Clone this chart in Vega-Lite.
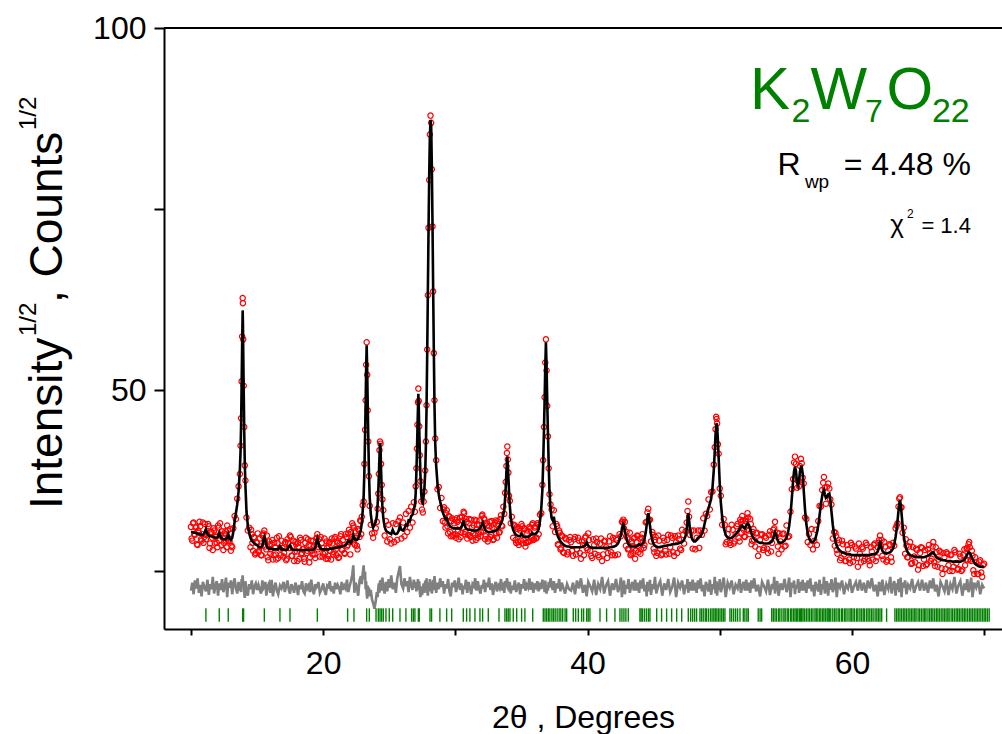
{
"$schema": "https://vega.github.io/schema/vega-lite/v6.json",
"width": 838, "height": 601,
"autosize": {"type": "none"},
"padding": {"left": 164, "top": 28, "right": 0, "bottom": 105},
"background": "white",
"config": {"view": {"stroke": null}, "font": "Liberation Sans"},
"datasets": {
"pat": [
{"t":10.0,"c":30.4,"o":31.1,"d":22.3},{"t":10.1,"c":30.4,"o":29.2,"d":23.4},{"t":10.2,"c":30.3,"o":31.7,"d":21.8},{"t":10.3,"c":30.3,"o":30.0,"d":23.7},{"t":10.4,"c":30.2,"o":31.1,"d":22.6},{"t":10.5,"c":30.2,"o":28.6,"d":24.0},{"t":10.6,"c":30.1,"o":30.3,"d":22.0},{"t":10.7,"c":30.1,"o":31.2,"d":23.1},{"t":10.8,"c":30.0,"o":29.2,"d":21.5},{"t":10.9,"c":30.0,"o":31.7,"d":23.5},
{"t":11.0,"c":30.2,"o":29.7,"d":22.9},{"t":11.13,"c":30.8,"o":29.4,"d":22.2},{"t":11.25,"c":30.1,"o":30.5,"d":23.8},{"t":11.35,"c":29.9,"o":31.2,"d":21.7},{"t":11.45,"c":29.8,"o":28.8,"d":23.2},{"t":11.55,"c":29.8,"o":30.4,"d":22.5},{"t":11.65,"c":29.7,"o":27.9,"d":24.2},{"t":11.75,"c":29.7,"o":30.6,"d":21.9},{"t":11.85,"c":29.6,"o":29.7,"d":23.0},{"t":11.95,"c":29.6,"o":28.9,"d":23.6},
{"t":12.05,"c":29.8,"o":31.3,"d":21.6},{"t":12.14,"c":30.3,"o":29.2,"d":23.3},{"t":12.25,"c":29.7,"o":30.0,"d":22.4},{"t":12.35,"c":29.5,"o":30.5,"d":23.9},{"t":12.45,"c":29.4,"o":27.9,"d":22.1},{"t":12.55,"c":29.4,"o":30.2,"d":22.8},{"t":12.65,"c":29.4,"o":29.2,"d":24.1},{"t":12.74,"c":29.7,"o":31.3,"d":21.4},{"t":12.82,"c":30.1,"o":29.2,"d":23.4},{"t":12.92,"c":29.5,"o":29.1,"d":22.7},
{"t":13.02,"c":29.3,"o":27.8,"d":23.7},{"t":13.12,"c":29.6,"o":28.3,"d":21.8},{"t":13.2,"c":30.4,"o":30.9,"d":23.1},{"t":13.3,"c":31.8,"o":32.6,"d":24.0},{"t":13.4,"c":33.0,"o":32.2,"d":22.6},{"t":13.5,"c":34.2,"o":35.0,"d":21.9},{"t":13.6,"c":36.0,"o":36.7,"d":23.5},{"t":13.7,"c":39.0,"o":38.4,"d":22.3},{"t":13.75,"c":41.5,"o":42.3,"d":23.0},{"t":13.79,"c":45.0,"o":46.1,"d":22.1},
{"t":13.83,"c":50.3,"o":51.2,"d":23.9},{"t":13.87,"c":56.0,"o":57.4,"d":23.3},{"t":13.91,"c":61.0,"o":62.7,"d":24.4},{"t":13.93,"c":59.3,"o":62.0,"d":23.8},{"t":13.95,"c":55.9,"o":57.0,"d":22.9},{"t":13.99,"c":49.9,"o":50.6,"d":23.4},{"t":14.03,"c":44.2,"o":44.9,"d":22.0},{"t":14.07,"c":40.0,"o":39.6,"d":21.3},{"t":14.12,"c":36.8,"o":37.5,"d":23.6},{"t":14.2,"c":33.2,"o":32.4,"d":22.2},
{"t":14.3,"c":31.3,"o":30.6,"d":21.6},{"t":14.4,"c":30.3,"o":31.0,"d":23.2},{"t":14.5,"c":29.6,"o":28.3,"d":22.5},{"t":14.6,"c":29.2,"o":30.1,"d":23.7},{"t":14.7,"c":29.0,"o":27.8,"d":21.8},{"t":14.8,"c":28.8,"o":29.6,"d":22.9},{"t":14.9,"c":28.7,"o":27.5,"d":23.3},{"t":15.0,"c":28.6,"o":28.9,"d":22.4},
{"t":15.1,"c":28.4,"o":27.6,"d":23.1},{"t":15.2,"c":28.3,"o":29.5,"d":22.4},{"t":15.3,"c":28.3,"o":27.2,"d":21.9},{"t":15.4,"c":28.5,"o":29.9,"d":23.7},{"t":15.48,"c":29.3,"o":30.2,"d":22.6},{"t":15.55,"c":29.7,"o":30.6,"d":22.8},{"t":15.63,"c":29.2,"o":28.4,"d":23.5},{"t":15.7,"c":28.6,"o":28.0,"d":21.6},{"t":15.8,"c":28.2,"o":26.9,"d":22.9},{"t":15.9,"c":28.1,"o":29.1,"d":23.3},
{"t":16.0,"c":28.1,"o":27.4,"d":22.0},{"t":16.1,"c":28.1,"o":28.7,"d":23.8},{"t":16.2,"c":28.0,"o":26.6,"d":21.5},{"t":16.3,"c":28.0,"o":28.9,"d":22.7},{"t":16.4,"c":28.0,"o":27.3,"d":23.4},{"t":16.5,"c":28.0,"o":29.6,"d":22.3},{"t":16.6,"c":28.0,"o":26.8,"d":21.8},{"t":16.73,"c":28.4,"o":28.1,"d":23.0},{"t":16.85,"c":28.0,"o":29.2,"d":22.6},{"t":17.0,"c":28.0,"o":27.0,"d":23.5},
{"t":17.1,"c":27.9,"o":28.8,"d":22.1},{"t":17.2,"c":27.9,"o":26.5,"d":22.9},{"t":17.3,"c":28.0,"o":29.4,"d":23.7},{"t":17.4,"c":28.4,"o":28.2,"d":22.4},{"t":17.49,"c":28.6,"o":29.9,"d":21.9},{"t":17.6,"c":28.1,"o":27.1,"d":23.2},{"t":17.7,"c":27.9,"o":28.5,"d":22.7},{"t":17.8,"c":27.9,"o":26.4,"d":22.0},{"t":17.9,"c":27.9,"o":29.0,"d":23.4},{"t":18.0,"c":27.9,"o":27.7,"d":22.8},
{"t":18.1,"c":27.9,"o":28.9,"d":21.7},{"t":18.2,"c":27.9,"o":26.7,"d":23.1},{"t":18.3,"c":27.9,"o":29.3,"d":22.5},{"t":18.4,"c":27.9,"o":27.5,"d":23.6},{"t":18.5,"c":27.9,"o":28.1,"d":22.2},{"t":18.6,"c":27.9,"o":26.3,"d":21.9},{"t":18.7,"c":27.9,"o":29.6,"d":23.3},{"t":18.8,"c":27.9,"o":27.8,"d":22.6},{"t":18.9,"c":27.9,"o":28.6,"d":23.0},{"t":19.0,"c":27.9,"o":26.9,"d":22.1},
{"t":19.1,"c":27.9,"o":29.2,"d":23.8},{"t":19.2,"c":27.9,"o":27.3,"d":22.4},{"t":19.3,"c":28.0,"o":28.4,"d":21.8},{"t":19.4,"c":28.3,"o":26.8,"d":23.2},{"t":19.48,"c":29.0,"o":29.5,"d":22.7},{"t":19.56,"c":29.5,"o":30.1,"d":22.9},{"t":19.64,"c":28.9,"o":28.3,"d":23.5},{"t":19.75,"c":28.2,"o":27.0,"d":22.0},{"t":19.9,"c":28.0,"o":28.9,"d":22.6},{"t":20.0,"c":28.0,"o":27.4,"d":23.3},
{"t":20.1,"c":28.0,"o":29.5,"d":22.3},{"t":20.2,"c":28.0,"o":26.7,"d":21.7},{"t":20.3,"c":28.0,"o":28.2,"d":23.0},{"t":20.4,"c":28.0,"o":27.1,"d":22.8},{"t":20.5,"c":28.1,"o":29.0,"d":23.6},{"t":20.6,"c":28.1,"o":26.6,"d":22.2},{"t":20.7,"c":28.1,"o":28.8,"d":22.9},{"t":20.8,"c":28.2,"o":27.6,"d":21.9},{"t":20.9,"c":28.2,"o":29.7,"d":23.4},{"t":21.0,"c":28.2,"o":27.2,"d":22.5},
{"t":21.1,"c":28.3,"o":28.9,"d":23.1},{"t":21.2,"c":28.3,"o":26.9,"d":22.7},{"t":21.3,"c":28.4,"o":29.8,"d":21.8},{"t":21.4,"c":28.4,"o":28.0,"d":23.5},{"t":21.5,"c":28.5,"o":29.3,"d":22.4},{"t":21.6,"c":28.5,"o":27.5,"d":23.0},{"t":21.7,"c":28.6,"o":30.1,"d":22.6},{"t":21.8,"c":28.8,"o":28.4,"d":23.8},{"t":21.9,"c":29.2,"o":30.2,"d":22.1},{"t":22.0,"c":29.1,"o":29.0,"d":22.9},
{"t":22.1,"c":28.9,"o":30.4,"d":23.6},{"t":22.2,"c":29.3,"o":31.6,"d":24.5},{"t":22.28,"c":30.0,"o":31.3,"d":25.8},{"t":22.36,"c":29.6,"o":28.8,"d":22.0},{"t":22.45,"c":29.3,"o":30.5,"d":23.4},{"t":22.55,"c":29.3,"o":28.5,"d":22.8},{"t":22.65,"c":29.5,"o":30.8,"d":21.6},{"t":22.75,"c":30.0,"o":29.7,"d":23.7},{"t":22.85,"c":30.7,"o":31.9,"d":24.3},{"t":22.92,"c":31.6,"o":32.5,"d":23.2},
{"t":22.99,"c":33.3,"o":34.1,"d":24.6},{"t":23.06,"c":35.2,"o":34.6,"d":25.8},{"t":23.12,"c":38.9,"o":39.8,"d":23.9},{"t":23.17,"c":43.7,"o":44.5,"d":24.9},{"t":23.21,"c":47.9,"o":48.6,"d":22.5},{"t":23.25,"c":52.7,"o":53.5,"d":23.6},{"t":23.29,"c":56.2,"o":56.6,"d":22.0},{"t":23.33,"c":52.7,"o":52.1,"d":21.2},{"t":23.37,"c":47.9,"o":47.2,"d":23.0},{"t":23.41,"c":43.7,"o":42.9,"d":21.8},
{"t":23.46,"c":38.9,"o":38.1,"d":22.7},{"t":23.52,"c":35.2,"o":34.0,"d":21.5},{"t":23.6,"c":32.9,"o":31.4,"d":22.4},{"t":23.7,"c":31.5,"o":30.2,"d":21.0},{"t":23.78,"c":31.0,"o":29.6,"d":20.6},{"t":23.88,"c":31.4,"o":30.3,"d":19.8},{"t":23.98,"c":31.8,"o":30.9,"d":20.9},{"t":24.06,"c":32.6,"o":31.8,"d":22.1},{"t":24.12,"c":34.2,"o":33.6,"d":21.4},{"t":24.17,"c":36.1,"o":35.7,"d":22.6},
{"t":24.21,"c":38.1,"o":38.4,"d":23.3},{"t":24.26,"c":40.8,"o":41.7,"d":22.0},{"t":24.3,"c":42.7,"o":42.9,"d":23.7},{"t":24.34,"c":42.0,"o":42.6,"d":22.5},{"t":24.38,"c":39.0,"o":39.8,"d":23.8},{"t":24.43,"c":36.1,"o":36.9,"d":22.3},{"t":24.48,"c":34.0,"o":34.9,"d":24.1},{"t":24.55,"c":32.3,"o":33.4,"d":22.8},{"t":24.65,"c":31.1,"o":29.9,"d":21.9},{"t":24.75,"c":30.6,"o":31.9,"d":23.5},
{"t":24.85,"c":30.4,"o":29.1,"d":22.2},{"t":24.95,"c":30.3,"o":31.4,"d":23.9},{"t":25.05,"c":30.2,"o":29.4,"d":22.7},{"t":25.15,"c":30.1,"o":28.8,"d":24.4},{"t":25.26,"c":30.7,"o":31.6,"d":22.5},{"t":25.38,"c":30.2,"o":29.0,"d":23.4},{"t":25.5,"c":30.1,"o":31.5,"d":22.0},{"t":25.6,"c":30.2,"o":29.3,"d":23.9},{"t":25.7,"c":30.5,"o":31.9,"d":24.8},{"t":25.81,"c":31.3,"o":32.4,"d":25.7},
{"t":25.92,"c":30.7,"o":29.5,"d":23.2},{"t":26.05,"c":30.6,"o":31.7,"d":22.6},{"t":26.15,"c":30.9,"o":29.8,"d":24.0},{"t":26.26,"c":31.4,"o":32.9,"d":22.9},{"t":26.36,"c":31.3,"o":30.4,"d":23.6},{"t":26.46,"c":32.0,"o":33.3,"d":22.1},{"t":26.56,"c":31.9,"o":31.0,"d":24.2},{"t":26.66,"c":32.6,"o":33.9,"d":23.0},{"t":26.76,"c":32.8,"o":31.7,"d":22.4},{"t":26.86,"c":33.6,"o":34.5,"d":23.8},
{"t":26.94,"c":34.0,"o":33.2,"d":22.7},{"t":27.0,"c":35.8,"o":36.7,"d":23.4},{"t":27.05,"c":38.5,"o":39.2,"d":22.2},{"t":27.09,"c":41.2,"o":41.9,"d":23.5},{"t":27.13,"c":44.4,"o":45.2,"d":22.6},{"t":27.17,"c":47.4,"o":48.3,"d":23.9},{"t":27.2,"c":49.5,"o":50.2,"d":23.2},{"t":27.23,"c":47.6,"o":48.5,"d":22.4},{"t":27.27,"c":44.5,"o":45.0,"d":23.6},{"t":27.31,"c":41.4,"o":41.0,"d":22.1},
{"t":27.36,"c":38.2,"o":37.4,"d":21.4},{"t":27.42,"c":35.6,"o":34.6,"d":22.9},{"t":27.48,"c":34.6,"o":33.5,"d":21.7},{"t":27.54,"c":34.4,"o":33.1,"d":22.5},{"t":27.6,"c":35.4,"o":34.6,"d":23.3},{"t":27.66,"c":36.5,"o":36.0,"d":22.0},{"t":27.72,"c":38.7,"o":38.9,"d":23.7},{"t":27.77,"c":42.2,"o":42.9,"d":22.8},{"t":27.82,"c":47.5,"o":47.9,"d":24.0},{"t":27.87,"c":55.0,"o":55.6,"d":22.3},
{"t":27.92,"c":63.5,"o":63.1,"d":21.6},{"t":27.97,"c":72.0,"o":72.4,"d":23.4},{"t":28.02,"c":79.5,"o":79.0,"d":22.2},{"t":28.07,"c":84.8,"o":85.3,"d":23.9},{"t":28.12,"c":87.3,"o":87.9,"d":22.7},{"t":28.17,"c":86.5,"o":86.9,"d":23.5},{"t":28.22,"c":81.0,"o":80.5,"d":21.9},{"t":28.27,"c":73.0,"o":72.6,"d":22.6},{"t":28.32,"c":64.0,"o":63.6,"d":23.8},{"t":28.37,"c":55.5,"o":55.1,"d":22.4},
{"t":28.42,"c":48.0,"o":48.6,"d":24.3},{"t":28.48,"c":42.5,"o":43.3,"d":23.1},{"t":28.55,"c":39.5,"o":40.3,"d":22.0},{"t":28.65,"c":37.0,"o":36.3,"d":23.4},{"t":28.75,"c":35.5,"o":36.6,"d":22.5},{"t":28.85,"c":34.6,"o":33.7,"d":24.0},{"t":28.95,"c":33.8,"o":35.1,"d":22.8},{"t":29.05,"c":33.1,"o":31.9,"d":23.6},{"t":29.15,"c":32.6,"o":33.8,"d":21.9},{"t":29.25,"c":32.2,"o":31.0,"d":23.2},
{"t":29.35,"c":32.3,"o":33.4,"d":22.6},{"t":29.45,"c":31.6,"o":30.2,"d":23.9},{"t":29.55,"c":31.3,"o":32.5,"d":22.2},{"t":29.65,"c":31.1,"o":29.8,"d":21.5},{"t":29.75,"c":31.0,"o":32.3,"d":23.4},{"t":29.85,"c":30.9,"o":30.0,"d":22.8},{"t":29.95,"c":30.9,"o":32.1,"d":23.7},{"t":30.05,"c":30.9,"o":29.6,"d":22.1},{"t":30.15,"c":30.9,"o":31.8,"d":22.9},{"t":30.25,"c":30.9,"o":29.4,"d":24.1},
{"t":30.35,"c":30.9,"o":32.4,"d":22.4},{"t":30.45,"c":31.0,"o":30.3,"d":23.3},{"t":30.55,"c":31.5,"o":32.0,"d":21.8},{"t":30.62,"c":32.0,"o":33.2,"d":23.0},{"t":30.7,"c":31.3,"o":30.1,"d":22.5},{"t":30.8,"c":30.9,"o":32.2,"d":23.8},{"t":30.9,"c":30.8,"o":29.5,"d":22.0},{"t":31.0,"c":30.7,"o":31.6,"d":23.5},{"t":31.1,"c":30.7,"o":29.9,"d":22.7},{"t":31.2,"c":30.7,"o":32.1,"d":21.8},
{"t":31.3,"c":30.6,"o":29.2,"d":23.2},{"t":31.4,"c":30.6,"o":31.3,"d":22.9},{"t":31.5,"c":30.6,"o":30.0,"d":24.0},{"t":31.6,"c":30.6,"o":32.0,"d":22.3},{"t":31.7,"c":30.7,"o":29.6,"d":23.6},{"t":31.8,"c":30.8,"o":31.4,"d":22.5},{"t":31.9,"c":31.0,"o":29.8,"d":21.9},{"t":32.0,"c":31.4,"o":32.6,"d":23.1},{"t":32.08,"c":31.7,"o":31.0,"d":22.6},{"t":32.16,"c":31.2,"o":32.3,"d":23.8},
{"t":32.25,"c":30.7,"o":29.4,"d":22.1},{"t":32.35,"c":30.5,"o":31.6,"d":23.4},{"t":32.45,"c":30.4,"o":29.1,"d":22.8},{"t":32.55,"c":30.4,"o":31.2,"d":24.1},{"t":32.65,"c":30.4,"o":29.7,"d":22.4},{"t":32.75,"c":30.4,"o":31.9,"d":23.3},{"t":32.85,"c":30.5,"o":29.3,"d":21.7},{"t":32.95,"c":30.5,"o":30.8,"d":22.9},{"t":33.05,"c":30.6,"o":32.0,"d":23.5},{"t":33.15,"c":30.7,"o":29.6,"d":22.2},
{"t":33.25,"c":30.9,"o":31.5,"d":23.0},{"t":33.35,"c":31.2,"o":30.4,"d":22.6},{"t":33.45,"c":31.6,"o":32.7,"d":23.9},{"t":33.55,"c":32.0,"o":31.2,"d":22.3},{"t":33.63,"c":32.8,"o":33.9,"d":23.4},{"t":33.7,"c":33.5,"o":32.9,"d":22.0},{"t":33.76,"c":35.0,"o":35.8,"d":23.6},{"t":33.81,"c":36.6,"o":37.3,"d":22.8},{"t":33.86,"c":38.6,"o":39.5,"d":23.2},{"t":33.9,"c":40.0,"o":41.3,"d":24.0},
{"t":33.93,"c":40.8,"o":42.2,"d":23.7},{"t":33.97,"c":39.6,"o":40.4,"d":22.5},{"t":34.01,"c":38.0,"o":38.6,"d":23.1},{"t":34.06,"c":36.0,"o":35.4,"d":22.2},{"t":34.12,"c":34.0,"o":34.7,"d":23.5},{"t":34.19,"c":32.4,"o":31.6,"d":21.9},{"t":34.27,"c":31.4,"o":32.5,"d":23.0},{"t":34.37,"c":30.7,"o":29.6,"d":22.4},{"t":34.5,"c":30.2,"o":31.3,"d":23.7},{"t":34.6,"c":30.0,"o":28.9,"d":22.1},
{"t":34.7,"c":29.9,"o":30.8,"d":22.9},{"t":34.8,"c":29.8,"o":28.6,"d":23.4},{"t":34.9,"c":29.8,"o":30.6,"d":21.8},{"t":35.0,"c":30.2,"o":31.5,"d":23.2},{"t":35.1,"c":29.9,"o":28.8,"d":22.6},{"t":35.2,"c":29.7,"o":30.9,"d":23.9},{"t":35.3,"c":29.7,"o":28.4,"d":22.3},{"t":35.4,"c":29.7,"o":30.2,"d":23.1},{"t":35.5,"c":29.7,"o":29.0,"d":22.7},{"t":35.6,"c":29.8,"o":31.1,"d":24.0},
{"t":35.7,"c":30.0,"o":29.2,"d":22.4},{"t":35.8,"c":30.3,"o":31.4,"d":23.5},{"t":35.9,"c":30.1,"o":29.3,"d":22.0},{"t":36.0,"c":30.1,"o":31.0,"d":23.3},{"t":36.1,"c":30.2,"o":29.5,"d":22.8},{"t":36.2,"c":30.4,"o":31.6,"d":23.6},{"t":36.3,"c":30.8,"o":30.1,"d":22.2},{"t":36.4,"c":31.9,"o":32.8,"d":23.4},{"t":36.5,"c":33.7,"o":33.0,"d":22.5},{"t":36.58,"c":36.1,"o":36.9,"d":23.8},
{"t":36.64,"c":39.7,"o":40.3,"d":22.9},{"t":36.7,"c":44.3,"o":44.9,"d":23.2},{"t":36.75,"c":48.4,"o":49.0,"d":22.1},{"t":36.8,"c":53.1,"o":53.8,"d":23.7},{"t":36.85,"c":56.6,"o":57.0,"d":22.6},{"t":36.9,"c":53.1,"o":52.7,"d":21.9},{"t":36.95,"c":48.4,"o":47.8,"d":23.0},{"t":37.0,"c":44.3,"o":43.6,"d":22.3},{"t":37.06,"c":39.7,"o":39.2,"d":23.5},{"t":37.12,"c":36.1,"o":35.6,"d":22.7},
{"t":37.2,"c":33.6,"o":34.2,"d":24.0},{"t":37.28,"c":32.3,"o":33.5,"d":23.1},{"t":37.36,"c":32.0,"o":31.2,"d":22.4},{"t":37.45,"c":32.5,"o":33.4,"d":23.6},{"t":37.54,"c":31.4,"o":30.4,"d":22.0},{"t":37.64,"c":30.4,"o":31.5,"d":23.3},{"t":37.75,"c":29.8,"o":28.7,"d":22.6},{"t":37.85,"c":29.4,"o":30.6,"d":23.9},{"t":37.95,"c":29.1,"o":28.0,"d":22.2},{"t":38.05,"c":28.9,"o":29.9,"d":23.4},
{"t":38.15,"c":28.7,"o":27.6,"d":22.8},{"t":38.3,"c":28.5,"o":29.6,"d":21.9},{"t":38.45,"c":28.4,"o":27.3,"d":23.2},{"t":38.6,"c":28.4,"o":29.3,"d":22.5},{"t":38.75,"c":28.3,"o":29.0,"d":22.3},{"t":38.9,"c":28.3,"o":27.1,"d":23.4},{"t":39.05,"c":28.3,"o":29.7,"d":21.8},{"t":39.2,"c":28.3,"o":28.0,"d":23.7},{"t":39.35,"c":28.3,"o":29.2,"d":22.6},{"t":39.5,"c":28.3,"o":26.7,"d":24.0},
{"t":39.65,"c":28.4,"o":28.6,"d":22.0},{"t":39.8,"c":28.5,"o":29.6,"d":23.1},{"t":39.93,"c":29.0,"o":28.2,"d":21.5},{"t":40.05,"c":28.5,"o":30.2,"d":23.5},{"t":40.2,"c":28.3,"o":27.8,"d":22.9},{"t":40.35,"c":28.2,"o":26.8,"d":22.2},{"t":40.5,"c":28.2,"o":28.6,"d":23.8},{"t":40.65,"c":28.2,"o":29.5,"d":21.7},{"t":40.8,"c":28.2,"o":27.2,"d":23.2},{"t":40.95,"c":28.2,"o":28.8,"d":22.5},
{"t":41.1,"c":28.2,"o":26.4,"d":24.2},{"t":41.25,"c":28.2,"o":29.1,"d":21.9},{"t":41.4,"c":28.2,"o":28.3,"d":23.0},{"t":41.55,"c":28.2,"o":27.5,"d":23.6},{"t":41.7,"c":28.3,"o":29.8,"d":21.6},{"t":41.85,"c":28.3,"o":27.2,"d":23.3},{"t":42.0,"c":28.4,"o":28.7,"d":22.4},{"t":42.15,"c":28.5,"o":29.5,"d":23.9},{"t":42.3,"c":28.8,"o":27.3,"d":22.1},{"t":42.42,"c":29.3,"o":30.1,"d":22.8},
{"t":42.52,"c":30.0,"o":29.8,"d":24.1},{"t":42.6,"c":30.8,"o":31.8,"d":21.4},{"t":42.66,"c":31.3,"o":31.8,"d":23.4},{"t":42.7,"c":31.5,"o":32.1,"d":22.7},{"t":42.75,"c":31.3,"o":30.9,"d":23.7},{"t":42.82,"c":30.6,"o":31.8,"d":21.8},{"t":42.9,"c":29.8,"o":28.5,"d":23.1},{"t":43.0,"c":29.1,"o":29.6,"d":22.6},{"t":43.1,"c":28.7,"o":28.1,"d":23.9},{"t":43.2,"c":28.5,"o":30.3,"d":22.0},
{"t":43.3,"c":28.4,"o":27.4,"d":22.9},{"t":43.4,"c":28.4,"o":28.4,"d":23.5},{"t":43.5,"c":28.4,"o":29.5,"d":22.3},{"t":43.6,"c":28.4,"o":26.7,"d":23.8},{"t":43.7,"c":28.4,"o":29.0,"d":22.3},{"t":43.8,"c":28.5,"o":29.8,"d":23.4},{"t":43.9,"c":28.7,"o":28.4,"d":22.0},{"t":44.0,"c":28.6,"o":27.4,"d":23.7},{"t":44.1,"c":28.7,"o":29.6,"d":22.6},{"t":44.2,"c":28.9,"o":29.1,"d":24.0},
{"t":44.3,"c":29.4,"o":28.6,"d":22.2},{"t":44.4,"c":30.3,"o":31.7,"d":23.1},{"t":44.47,"c":31.3,"o":31.8,"d":21.5},{"t":44.53,"c":32.4,"o":33.1,"d":23.5},{"t":44.59,"c":33.0,"o":33.6,"d":22.9},{"t":44.65,"c":32.4,"o":32.0,"d":22.2},{"t":44.72,"c":31.3,"o":32.1,"d":23.8},{"t":44.8,"c":30.1,"o":29.1,"d":21.7},{"t":44.9,"c":29.2,"o":30.4,"d":23.2},{"t":45.0,"c":28.7,"o":28.1,"d":22.5},
{"t":45.1,"c":28.5,"o":29.3,"d":24.2},{"t":45.2,"c":28.4,"o":27.1,"d":21.9},{"t":45.35,"c":28.3,"o":29.9,"d":23.0},{"t":45.5,"c":28.3,"o":28.1,"d":23.6},{"t":45.65,"c":28.4,"o":27.4,"d":21.6},{"t":45.8,"c":28.5,"o":29.2,"d":23.3},{"t":45.95,"c":28.5,"o":27.3,"d":22.4},{"t":46.1,"c":28.6,"o":30.0,"d":23.9},{"t":46.25,"c":28.6,"o":28.3,"d":22.1},{"t":46.4,"c":28.7,"o":29.6,"d":22.8},
{"t":46.55,"c":28.7,"o":27.1,"d":24.1},{"t":46.7,"c":28.8,"o":29.0,"d":21.4},{"t":46.85,"c":28.8,"o":29.9,"d":23.4},{"t":47.0,"c":28.9,"o":28.1,"d":22.7},{"t":47.15,"c":29.0,"o":30.7,"d":23.7},{"t":47.3,"c":29.3,"o":28.8,"d":21.8},{"t":47.42,"c":29.9,"o":30.5,"d":23.1},{"t":47.5,"c":30.8,"o":31.7,"d":22.6},{"t":47.56,"c":32.0,"o":33.3,"d":23.9},{"t":47.62,"c":33.0,"o":34.6,"d":22.0},
{"t":47.68,"c":32.0,"o":32.5,"d":22.9},{"t":47.75,"c":30.7,"o":30.0,"d":23.5},{"t":47.85,"c":29.7,"o":30.6,"d":22.3},{"t":47.95,"c":29.3,"o":28.1,"d":23.8},{"t":48.05,"c":29.1,"o":30.6,"d":22.3},{"t":48.15,"c":29.1,"o":28.0,"d":23.4},{"t":48.25,"c":29.3,"o":29.6,"d":22.0},{"t":48.35,"c":29.6,"o":30.6,"d":23.7},{"t":48.45,"c":29.7,"o":28.2,"d":22.6},{"t":48.55,"c":29.8,"o":30.6,"d":24.0},
{"t":48.65,"c":30.2,"o":30.0,"d":22.2},{"t":48.75,"c":30.7,"o":32.3,"d":23.1},{"t":48.85,"c":31.5,"o":30.6,"d":21.5},{"t":48.95,"c":32.3,"o":32.9,"d":23.5},{"t":49.05,"c":33.0,"o":32.6,"d":22.9},{"t":49.15,"c":33.7,"o":34.9,"d":22.2},{"t":49.25,"c":34.3,"o":33.5,"d":23.8},{"t":49.35,"c":35.0,"o":35.9,"d":21.7},{"t":49.45,"c":36.5,"o":36.0,"d":23.2},{"t":49.55,"c":39.0,"o":39.7,"d":22.5},
{"t":49.62,"c":41.5,"o":42.1,"d":24.2},{"t":49.68,"c":43.8,"o":44.6,"d":21.9},{"t":49.73,"c":45.0,"o":46.3,"d":23.0},{"t":49.76,"c":45.4,"o":46.0,"d":23.6},{"t":49.8,"c":45.0,"o":45.4,"d":21.6},{"t":49.86,"c":43.0,"o":42.5,"d":23.3},{"t":49.92,"c":40.5,"o":41.2,"d":22.4},{"t":50.0,"c":37.0,"o":36.4,"d":23.9},{"t":50.08,"c":34.5,"o":35.4,"d":22.1},{"t":50.18,"c":32.5,"o":31.4,"d":22.8},
{"t":50.3,"c":31.0,"o":32.2,"d":24.1},{"t":50.45,"c":30.0,"o":28.7,"d":21.4},{"t":50.6,"c":29.6,"o":30.1,"d":23.4},{"t":50.75,"c":29.5,"o":28.9,"d":22.7},{"t":50.9,"c":29.6,"o":31.4,"d":23.7},{"t":51.05,"c":29.8,"o":28.8,"d":21.8},{"t":51.2,"c":30.1,"o":30.1,"d":23.1},{"t":51.35,"c":30.4,"o":31.5,"d":22.6},{"t":51.5,"c":30.8,"o":29.1,"d":23.9},{"t":51.6,"c":31.2,"o":31.8,"d":22.0},
{"t":51.7,"c":31.3,"o":32.6,"d":22.9},{"t":51.8,"c":31.0,"o":30.7,"d":23.5},{"t":51.9,"c":30.9,"o":29.7,"d":22.3},{"t":52.0,"c":31.3,"o":32.2,"d":23.8},{"t":52.1,"c":31.6,"o":33.0,"d":22.3},{"t":52.2,"c":31.4,"o":30.6,"d":23.4},{"t":52.3,"c":30.8,"o":32.2,"d":22.0},{"t":52.4,"c":30.2,"o":28.7,"d":23.7},{"t":52.5,"c":29.7,"o":30.4,"d":22.6},{"t":52.6,"c":29.4,"o":29.3,"d":24.0},
{"t":52.75,"c":29.2,"o":30.2,"d":22.2},{"t":52.9,"c":29.0,"o":27.1,"d":23.1},{"t":53.05,"c":28.9,"o":29.3,"d":21.5},{"t":53.2,"c":28.9,"o":30.1,"d":23.5},{"t":53.35,"c":28.8,"o":28.2,"d":22.9},{"t":53.5,"c":28.8,"o":29.6,"d":22.2},{"t":53.65,"c":28.8,"o":27.5,"d":23.8},{"t":53.8,"c":28.9,"o":30.5,"d":21.7},{"t":53.95,"c":29.1,"o":28.9,"d":23.2},{"t":54.05,"c":29.6,"o":30.7,"d":22.5},
{"t":54.12,"c":30.1,"o":30.9,"d":24.2},{"t":54.18,"c":30.4,"o":31.8,"d":21.9},{"t":54.25,"c":30.1,"o":29.8,"d":23.0},{"t":54.35,"c":29.4,"o":30.3,"d":23.6},{"t":54.45,"c":29.0,"o":27.4,"d":21.6},{"t":54.6,"c":28.9,"o":29.1,"d":23.3},{"t":54.75,"c":29.0,"o":30.1,"d":22.4},{"t":54.9,"c":29.2,"o":28.4,"d":23.9},{"t":55.05,"c":29.6,"o":31.3,"d":22.1},{"t":55.15,"c":30.2,"o":29.7,"d":22.8},
{"t":55.25,"c":31.2,"o":29.8,"d":24.1},{"t":55.35,"c":32.8,"o":33.2,"d":21.4},{"t":55.45,"c":35.0,"o":36.3,"d":23.4},{"t":55.55,"c":37.5,"o":37.7,"d":22.7},{"t":55.62,"c":38.8,"o":40.0,"d":23.7},{"t":55.69,"c":39.4,"o":40.8,"d":21.8},{"t":55.76,"c":38.9,"o":39.8,"d":23.1},{"t":55.85,"c":37.2,"o":36.5,"d":22.6},{"t":55.93,"c":36.8,"o":37.4,"d":23.9},{"t":56.0,"c":37.6,"o":36.7,"d":22.0},
{"t":56.07,"c":38.8,"o":39.5,"d":22.9},{"t":56.14,"c":39.4,"o":40.5,"d":23.5},{"t":56.2,"c":39.4,"o":39.9,"d":22.3},{"t":56.27,"c":38.5,"o":37.9,"d":23.8},{"t":56.35,"c":36.2,"o":37.1,"d":22.3},{"t":56.45,"c":33.5,"o":32.4,"d":23.4},{"t":56.55,"c":31.5,"o":32.2,"d":22.0},{"t":56.65,"c":30.3,"o":29.0,"d":23.7},{"t":56.75,"c":29.6,"o":30.1,"d":22.6},{"t":56.85,"c":29.2,"o":28.6,"d":24.0},
{"t":56.95,"c":29.0,"o":30.8,"d":22.2},{"t":57.05,"c":29.0,"o":28.0,"d":23.1},{"t":57.15,"c":29.2,"o":29.2,"d":21.5},{"t":57.25,"c":29.6,"o":30.7,"d":23.5},{"t":57.35,"c":30.3,"o":28.6,"d":22.9},{"t":57.45,"c":31.3,"o":31.9,"d":22.2},{"t":57.55,"c":32.7,"o":34.0,"d":23.8},{"t":57.65,"c":34.2,"o":33.9,"d":21.7},{"t":57.75,"c":35.4,"o":36.2,"d":23.2},{"t":57.82,"c":36.0,"o":37.2,"d":22.5},
{"t":57.88,"c":36.2,"o":38.0,"d":24.2},{"t":57.95,"c":35.6,"o":36.5,"d":21.9},{"t":58.03,"c":35.1,"o":34.3,"d":23.0},{"t":58.1,"c":35.2,"o":36.6,"d":23.6},{"t":58.2,"c":35.6,"o":37.1,"d":21.6},{"t":58.29,"c":35.7,"o":36.4,"d":23.3},{"t":58.36,"c":35.0,"o":34.9,"d":22.4},{"t":58.45,"c":33.2,"o":34.2,"d":23.9},{"t":58.55,"c":31.4,"o":29.5,"d":22.1},{"t":58.65,"c":30.0,"o":30.4,"d":22.8},
{"t":58.75,"c":29.1,"o":30.3,"d":24.1},{"t":58.85,"c":28.5,"o":27.9,"d":21.4},{"t":58.95,"c":28.1,"o":28.9,"d":23.4},{"t":59.1,"c":27.8,"o":26.5,"d":22.7},{"t":59.25,"c":27.6,"o":29.2,"d":23.7},{"t":59.4,"c":27.5,"o":27.3,"d":21.8},{"t":59.55,"c":27.4,"o":26.4,"d":23.1},{"t":59.7,"c":27.3,"o":28.0,"d":22.6},{"t":59.85,"c":27.3,"o":26.1,"d":23.9},{"t":60.0,"c":27.2,"o":28.6,"d":22.0},
{"t":60.15,"c":27.2,"o":26.9,"d":22.9},{"t":60.3,"c":27.2,"o":28.1,"d":23.5},{"t":60.45,"c":27.2,"o":25.6,"d":22.3},{"t":60.6,"c":27.2,"o":27.4,"d":23.8},{"t":60.75,"c":27.2,"o":28.3,"d":22.3},{"t":60.9,"c":27.2,"o":26.4,"d":23.4},{"t":61.05,"c":27.2,"o":28.9,"d":22.0},{"t":61.2,"c":27.2,"o":26.7,"d":23.7},{"t":61.35,"c":27.2,"o":25.8,"d":22.6},{"t":61.5,"c":27.3,"o":27.7,"d":24.0},
{"t":61.65,"c":27.3,"o":28.6,"d":22.2},{"t":61.8,"c":27.4,"o":26.4,"d":23.1},{"t":61.95,"c":27.7,"o":28.3,"d":21.5},{"t":62.05,"c":28.4,"o":29.3,"d":23.5},{"t":62.12,"c":29.2,"o":29.9,"d":22.9},{"t":62.2,"c":28.4,"o":28.5,"d":22.2},{"t":62.3,"c":27.8,"o":27.1,"d":23.8},{"t":62.45,"c":27.5,"o":29.0,"d":21.7},{"t":62.6,"c":27.4,"o":26.3,"d":23.2},{"t":62.75,"c":27.5,"o":27.8,"d":22.5},
{"t":62.9,"c":27.6,"o":28.6,"d":24.2},{"t":63.0,"c":27.8,"o":26.3,"d":21.9},{"t":63.1,"c":28.1,"o":28.9,"d":23.0},{"t":63.2,"c":28.7,"o":28.5,"d":23.6},{"t":63.3,"c":29.7,"o":30.9,"d":21.6},{"t":63.38,"c":30.8,"o":31.3,"d":23.3},{"t":63.45,"c":32.0,"o":31.6,"d":22.4},{"t":63.52,"c":33.3,"o":33.9,"d":23.9},{"t":63.58,"c":34.3,"o":35.0,"d":22.1},{"t":63.63,"c":34.8,"o":35.2,"d":22.8},
{"t":63.68,"c":34.3,"o":33.8,"d":24.1},{"t":63.75,"c":33.0,"o":33.8,"d":21.4},{"t":63.83,"c":31.3,"o":30.3,"d":23.4},{"t":63.92,"c":29.8,"o":31.0,"d":22.7},{"t":64.02,"c":28.7,"o":27.4,"d":23.7},{"t":64.12,"c":28.0,"o":28.5,"d":21.8},{"t":64.25,"c":27.5,"o":26.9,"d":23.1},{"t":64.4,"c":27.2,"o":29.0,"d":22.6},{"t":64.55,"c":27.1,"o":26.1,"d":23.9},{"t":64.7,"c":27.0,"o":27.0,"d":22.0},
{"t":64.85,"c":27.0,"o":28.1,"d":22.9},{"t":65.0,"c":26.9,"o":25.2,"d":23.5},{"t":65.15,"c":26.9,"o":27.5,"d":22.3},{"t":65.3,"c":26.9,"o":28.2,"d":23.8},{"t":65.45,"c":26.9,"o":26.6,"d":22.3},{"t":65.6,"c":27.0,"o":25.8,"d":23.4},{"t":65.75,"c":27.1,"o":28.0,"d":22.0},{"t":65.9,"c":27.3,"o":27.5,"d":23.7},{"t":66.03,"c":27.5,"o":26.7,"d":22.6},{"t":66.15,"c":27.6,"o":29.0,"d":24.0},
{"t":66.28,"c":27.2,"o":25.7,"d":22.2},{"t":66.4,"c":26.9,"o":27.6,"d":23.1},{"t":66.55,"c":26.7,"o":26.6,"d":21.5},{"t":66.7,"c":26.6,"o":27.6,"d":23.5},{"t":66.85,"c":26.5,"o":24.6,"d":22.9},{"t":67.0,"c":26.5,"o":26.9,"d":22.2},{"t":67.15,"c":26.4,"o":27.6,"d":23.8},{"t":67.3,"c":26.4,"o":25.8,"d":21.7},{"t":67.45,"c":26.4,"o":27.2,"d":23.2},{"t":67.6,"c":26.3,"o":25.0,"d":22.5},
{"t":67.75,"c":26.3,"o":27.9,"d":24.2},{"t":67.9,"c":26.3,"o":26.1,"d":21.9},{"t":68.05,"c":26.3,"o":25.3,"d":23.0},{"t":68.2,"c":26.3,"o":27.0,"d":23.6},{"t":68.35,"c":26.4,"o":25.2,"d":21.6},{"t":68.5,"c":26.6,"o":28.0,"d":23.3},{"t":68.62,"c":26.9,"o":26.6,"d":22.4},{"t":68.72,"c":27.3,"o":28.2,"d":23.9},{"t":68.82,"c":27.6,"o":28.7,"d":22.1},{"t":68.92,"c":27.5,"o":28.3,"d":22.8},
{"t":69.02,"c":27.1,"o":26.4,"d":24.1},{"t":69.12,"c":26.6,"o":27.1,"d":21.4},{"t":69.25,"c":26.2,"o":24.6,"d":23.4},{"t":69.4,"c":25.9,"o":26.2,"d":22.7},{"t":69.55,"c":25.7,"o":24.6,"d":23.7},{"t":69.7,"c":25.6,"o":26.5,"d":21.8},{"t":69.85,"c":25.6,"o":24.2,"d":23.1},{"t":70.0,"c":25.6,"o":26.0,"d":22.6}
],
"obs2": [
{"t":10.05,"o":29.5},{"t":10.15,"o":31.6},{"t":10.25,"o":30.1},{"t":10.35,"o":31.0},{"t":10.45,"o":28.7},{"t":10.55,"o":30.6},{"t":10.65,"o":31.8},{"t":10.75,"o":29.4},{"t":10.85,"o":30.1},{"t":10.95,"o":28.9},{"t":11.06,"o":31.5},{"t":11.19,"o":30.0},{"t":11.3,"o":31.5},{"t":11.4,"o":28.2},{"t":11.5,"o":30.4},{"t":11.6,"o":29.6},{"t":11.7,"o":30.9},{"t":11.8,"o":28.8},{"t":11.9,"o":29.9},{"t":12.0,"o":28.3},{"t":12.1,"o":31.0},{"t":12.2,"o":31.6},{"t":12.3,"o":28.6},{"t":12.4,"o":29.6},{"t":12.5,"o":28.9},{"t":12.6,"o":30.5},{"t":12.7,"o":28.3},{"t":12.78,"o":30.6},{"t":12.87,"o":29.5},{"t":12.97,"o":30.8},{"t":13.07,"o":28.5},
{"t":14.55,"o":30.7},{"t":14.65,"o":28.9},{"t":14.75,"o":29.7},{"t":14.85,"o":27.3},{"t":14.95,"o":29.0},{"t":15.05,"o":30.2},{"t":15.15,"o":27.8},{"t":15.25,"o":28.4},{"t":15.35,"o":27.2},{"t":15.45,"o":30.0},{"t":15.59,"o":29.1},{"t":15.75,"o":29.9},{"t":15.85,"o":26.5},{"t":15.95,"o":28.7},{"t":16.05,"o":28.0},{"t":16.15,"o":29.3},{"t":16.25,"o":27.2},{"t":16.35,"o":28.3},{"t":16.45,"o":26.6},{"t":16.55,"o":28.9},{"t":16.66,"o":29.8},{"t":16.79,"o":27.2},{"t":16.92,"o":28.2},{"t":17.05,"o":27.5},{"t":17.15,"o":29.0},{"t":17.25,"o":26.7},{"t":17.35,"o":28.9},{"t":17.45,"o":28.2},{"t":17.55,"o":29.7},{"t":17.65,"o":27.1},{"t":17.75,"o":29.2},{"t":17.85,"o":27.7},{"t":17.95,"o":28.7},{"t":18.05,"o":26.4},{"t":18.15,"o":28.3},{"t":18.25,"o":29.6},{"t":18.35,"o":27.3},{"t":18.45,"o":28.0},{"t":18.55,"o":26.7},{"t":18.65,"o":28.9},{"t":18.75,"o":27.5},{"t":18.85,"o":29.4},{"t":18.95,"o":26.2},{"t":19.05,"o":28.5},{"t":19.15,"o":27.8},{"t":19.25,"o":29.2},{"t":19.35,"o":27.3},{"t":19.52,"o":29.6},{"t":19.6,"o":28.0},{"t":19.7,"o":29.4},{"t":19.82,"o":29.7},{"t":19.95,"o":27.0},
{"t":20.05,"o":28.2},{"t":20.15,"o":27.5},{"t":20.25,"o":29.1},{"t":20.35,"o":26.7},{"t":20.45,"o":28.8},{"t":20.55,"o":27.8},{"t":20.65,"o":29.5},{"t":20.75,"o":27.3},{"t":20.85,"o":29.5},{"t":20.95,"o":28.0},{"t":21.05,"o":29.1},{"t":21.15,"o":26.8},{"t":21.25,"o":28.8},{"t":21.35,"o":30.1},{"t":21.45,"o":27.9},{"t":21.55,"o":28.6},{"t":21.65,"o":27.4},{"t":21.75,"o":29.7},{"t":21.85,"o":28.6},{"t":21.95,"o":30.7},{"t":22.05,"o":27.3},{"t":22.15,"o":29.7},{"t":22.24,"o":29.5},{"t":22.32,"o":31.0},{"t":22.4,"o":28.6},{"t":22.5,"o":29.6},{"t":22.6,"o":28.0},{"t":22.7,"o":30.6},{"t":22.8,"o":32.0},{"t":22.88,"o":30.1},
{"t":29.1,"o":33.5},{"t":29.2,"o":31.7},{"t":29.3,"o":33.0},{"t":29.4,"o":31.2},{"t":29.5,"o":32.6},{"t":29.6,"o":30.4},{"t":29.7,"o":31.9},{"t":29.8,"o":29.8},{"t":29.9,"o":31.6},{"t":30.0,"o":30.1},{"t":30.1,"o":32.3},{"t":30.2,"o":30.5},{"t":30.3,"o":31.4},{"t":30.4,"o":29.7},{"t":30.5,"o":32.5},{"t":30.58,"o":31.0},{"t":30.66,"o":33.0},{"t":30.75,"o":30.4},{"t":30.85,"o":31.8},{"t":30.95,"o":30.0},{"t":31.05,"o":32.2},{"t":31.15,"o":29.7},{"t":31.25,"o":31.0},{"t":31.35,"o":30.2},{"t":31.45,"o":32.1},{"t":31.55,"o":29.3},{"t":31.65,"o":31.4},{"t":31.75,"o":30.1},{"t":31.85,"o":32.0},{"t":31.95,"o":30.4},{"t":32.04,"o":32.8},{"t":32.12,"o":30.6},{"t":32.2,"o":32.1},{"t":32.3,"o":29.8},{"t":32.4,"o":31.3},{"t":32.5,"o":29.5},{"t":32.6,"o":31.8},{"t":32.7,"o":30.0},{"t":32.8,"o":31.0},{"t":32.9,"o":29.4},{"t":33.0,"o":31.7},{"t":33.1,"o":30.2},{"t":33.2,"o":31.9},{"t":33.3,"o":30.3},{"t":33.4,"o":32.2},{"t":33.5,"o":31.3},
{"t":34.43,"o":31.4},{"t":34.55,"o":29.3},{"t":34.65,"o":31.1},{"t":34.75,"o":29.0},{"t":34.85,"o":30.9},{"t":34.95,"o":29.2},{"t":35.05,"o":31.2},{"t":35.15,"o":29.3},{"t":35.25,"o":30.8},{"t":35.35,"o":28.9},{"t":35.45,"o":30.6},{"t":35.55,"o":29.1},{"t":35.65,"o":30.9},{"t":35.75,"o":29.6},{"t":35.85,"o":31.6},{"t":35.95,"o":29.4},{"t":36.05,"o":31.2},{"t":36.15,"o":29.6},{"t":36.25,"o":31.4},
{"t":37.7,"o":31.2},{"t":37.8,"o":28.6},{"t":37.9,"o":30.3},{"t":38.0,"o":28.2},{"t":38.1,"o":29.8},{"t":38.22,"o":27.5},{"t":38.37,"o":29.4},{"t":38.52,"o":27.6},{"t":38.68,"o":29.7},{"t":38.82,"o":27.8},{"t":38.98,"o":29.4},{"t":39.12,"o":27.3},{"t":39.28,"o":29.6},{"t":39.42,"o":27.5},{"t":39.58,"o":29.1},{"t":39.72,"o":27.2},{"t":39.87,"o":29.8},{"t":40.0,"o":27.9},{"t":40.12,"o":29.3},{"t":40.28,"o":27.1},{"t":40.42,"o":29.4},{"t":40.58,"o":27.4},{"t":40.72,"o":29.0},{"t":40.88,"o":26.9},{"t":41.02,"o":29.5},{"t":41.18,"o":27.3},{"t":41.32,"o":29.2},{"t":41.48,"o":26.8},{"t":41.62,"o":29.1},{"t":41.78,"o":27.6},{"t":41.92,"o":29.6},{"t":42.08,"o":27.2},{"t":42.22,"o":29.3},
{"t":42.95,"o":30.4},{"t":43.05,"o":28.0},{"t":43.15,"o":29.4},{"t":43.25,"o":27.2},{"t":43.35,"o":29.1},{"t":43.45,"o":27.5},{"t":43.55,"o":29.6},{"t":43.65,"o":27.8},{"t":43.75,"o":29.9},{"t":43.85,"o":27.6},{"t":43.95,"o":29.5},{"t":44.05,"o":28.0},{"t":44.15,"o":30.1},{"t":44.25,"o":28.2},
{"t":44.95,"o":30.0},{"t":45.05,"o":27.6},{"t":45.15,"o":29.7},{"t":45.28,"o":27.5},{"t":45.42,"o":29.2},{"t":45.58,"o":27.2},{"t":45.72,"o":29.6},{"t":45.88,"o":27.8},{"t":46.02,"o":29.3},{"t":46.18,"o":27.4},{"t":46.32,"o":29.9},{"t":46.48,"o":27.6},{"t":46.62,"o":29.8},{"t":46.78,"o":27.5},{"t":46.92,"o":29.4},{"t":47.08,"o":27.9},{"t":47.22,"o":30.0},
{"t":50.38,"o":31.4},{"t":50.52,"o":29.0},{"t":50.68,"o":30.8},{"t":50.82,"o":28.6},{"t":50.98,"o":30.7},{"t":51.12,"o":29.1},{"t":51.28,"o":31.2},{"t":51.42,"o":29.6},{"t":51.55,"o":32.1},{"t":51.65,"o":30.3},{"t":51.75,"o":32.0},{"t":51.85,"o":29.8},{"t":51.95,"o":31.9},{"t":52.05,"o":30.7},{"t":52.15,"o":32.4},{"t":52.25,"o":30.1},{"t":52.35,"o":31.5},{"t":52.45,"o":29.2},{"t":52.55,"o":30.8},{"t":52.68,"o":28.4},{"t":52.82,"o":30.3},{"t":52.98,"o":28.0},{"t":53.12,"o":30.0},{"t":53.28,"o":27.9},{"t":53.42,"o":29.8},{"t":53.58,"o":28.1},{"t":53.72,"o":30.0},{"t":53.88,"o":27.7},{"t":54.0,"o":30.0},{"t":54.4,"o":28.4},{"t":54.52,"o":30.2},{"t":54.68,"o":28.0},{"t":54.82,"o":30.2},{"t":54.98,"o":28.5},
{"t":58.7,"o":28.5},{"t":58.8,"o":29.8},{"t":58.9,"o":27.4},{"t":59.02,"o":29.3},{"t":59.18,"o":26.8},{"t":59.32,"o":28.7},{"t":59.48,"o":26.4},{"t":59.62,"o":28.6},{"t":59.78,"o":26.6},{"t":59.92,"o":28.9},{"t":60.08,"o":26.3},{"t":60.22,"o":28.4},{"t":60.38,"o":26.8},{"t":60.52,"o":28.8},{"t":60.68,"o":26.2},{"t":60.82,"o":28.1},{"t":60.98,"o":26.7},{"t":61.12,"o":28.6},{"t":61.28,"o":26.4},{"t":61.42,"o":28.3},{"t":61.58,"o":26.6},{"t":61.72,"o":28.8},{"t":61.88,"o":26.9},{"t":62.0,"o":28.9},{"t":62.25,"o":29.3},{"t":62.38,"o":26.6},{"t":62.52,"o":28.4},{"t":62.68,"o":26.5},{"t":62.82,"o":28.7},{"t":62.95,"o":26.9},
{"t":64.07,"o":29.4},{"t":64.18,"o":26.9},{"t":64.32,"o":28.4},{"t":64.48,"o":26.0},{"t":64.62,"o":28.3},{"t":64.78,"o":26.2},{"t":64.92,"o":27.9},{"t":65.08,"o":25.8},{"t":65.22,"o":28.3},{"t":65.38,"o":25.7},{"t":65.52,"o":27.9},{"t":65.68,"o":26.0},{"t":65.82,"o":28.6},{"t":65.96,"o":26.4},{"t":66.1,"o":28.4},{"t":66.22,"o":26.2},{"t":66.34,"o":28.3},{"t":66.48,"o":25.6},{"t":66.62,"o":27.8},{"t":66.78,"o":25.4},{"t":66.92,"o":27.5},{"t":67.08,"o":25.3},{"t":67.22,"o":27.4},{"t":67.38,"o":25.0},{"t":67.52,"o":27.3},{"t":67.68,"o":25.6},{"t":67.82,"o":27.6},{"t":67.98,"o":25.2},{"t":68.12,"o":27.4},{"t":68.28,"o":25.0},{"t":68.42,"o":27.2},{"t":68.56,"o":25.8},{"t":68.67,"o":28.1},{"t":68.77,"o":26.5},{"t":68.87,"o":29.0},{"t":68.97,"o":26.6},{"t":69.07,"o":27.8},{"t":69.18,"o":25.1},{"t":69.32,"o":26.9},{"t":69.48,"o":24.6},{"t":69.62,"o":26.3},{"t":69.78,"o":24.8},{"t":69.92,"o":25.8}
],
"refl": [
{"t":11.13},{"t":12.14},{"t":12.82},{"t":13.91},{"t":13.98},{"t":15.55},{"t":16.73},{"t":17.49},{"t":19.56},{"t":21.85},{"t":22.33},{"t":23.29},{"t":23.49},{"t":24.0},{"t":24.17},{"t":24.3},{"t":24.42},{"t":24.55},{"t":24.75},{"t":25.0},{"t":25.26},{"t":25.81},{"t":26.26},{"t":26.69},{"t":26.82},{"t":26.94},{"t":27.2},{"t":27.27},{"t":28.08},{"t":28.2},{"t":28.83},{"t":29.34},{"t":29.72},{"t":30.6},{"t":30.85},{"t":31.1},{"t":31.48},{"t":31.86},{"t":32.06},{"t":32.49},{"t":33.3},{"t":33.75},{"t":33.88},{"t":34.0},{"t":34.13},{"t":34.38},{"t":34.64},{"t":35.01},{"t":35.26},{"t":35.85},
{"t":36.65},{"t":36.78},{"t":36.9},{"t":37.03},{"t":37.15},{"t":37.3},{"t":37.42},{"t":37.55},{"t":37.7},{"t":37.85},{"t":37.98},{"t":38.12},{"t":38.3},{"t":38.42},{"t":38.92},{"t":39.1},{"t":39.3},{"t":39.55},{"t":39.7},{"t":39.93},{"t":40.05},{"t":40.18},{"t":40.94},{"t":41.44},{"t":42.07},{"t":42.45},{"t":42.6},{"t":42.75},{"t":42.9},{"t":43.08},{"t":43.96},{"t":44.05},{"t":44.15},{"t":44.3},{"t":44.45},{"t":44.6},{"t":44.72},{"t":45.23},{"t":45.6},{"t":45.98},{"t":46.36},{"t":46.74},{"t":47.12},{"t":47.62},{"t":47.8},{"t":47.95},{"t":48.1},{"t":48.25},
{"t":48.5},{"t":48.62},{"t":48.75},{"t":48.9},{"t":49.0},{"t":49.15},{"t":49.3},{"t":49.42},{"t":49.55},{"t":49.66},{"t":49.78},{"t":49.9},{"t":50.02},{"t":50.15},{"t":50.27},{"t":50.39},{"t":50.77},{"t":50.9},{"t":51.05},{"t":51.2},{"t":51.35},{"t":51.53},{"t":51.78},{"t":51.9},{"t":52.05},{"t":52.16},{"t":52.91},{"t":53.05},{"t":53.17},
{"t":53.93},{"t":54.05},{"t":54.18},{"t":54.3},{"t":54.45},{"t":54.55},{"t":54.7},{"t":54.85},{"t":54.95},{"t":55.1},{"t":55.2},{"t":55.35},{"t":55.45},{"t":55.58},{"t":55.69},{"t":55.8},{"t":55.9},{"t":56.02},{"t":56.12},{"t":56.2},{"t":56.3},{"t":56.42},{"t":56.55},{"t":56.68},{"t":56.8},{"t":56.93},{"t":57.05},{"t":57.2},{"t":57.3},{"t":57.42},{"t":57.55},{"t":57.65},{"t":57.78},{"t":57.88},{"t":58.0},{"t":58.12},{"t":58.2},{"t":58.29},{"t":58.4},{"t":58.55},{"t":58.68},{"t":58.8},{"t":58.95},{"t":59.05},{"t":59.2},{"t":59.3},{"t":59.45},{"t":59.55},{"t":59.7},{"t":59.85},{"t":59.95},{"t":60.08},{"t":60.2},{"t":60.35},{"t":60.45},{"t":60.6},{"t":60.72},{"t":60.85},{"t":60.95},{"t":61.1},{"t":61.22},{"t":61.35},{"t":61.48},{"t":61.6},{"t":61.75},{"t":61.88},{"t":62.0},{"t":62.12},{"t":62.25},{"t":62.62},
{"t":63.25},{"t":63.38},{"t":63.5},{"t":63.63},{"t":63.75},{"t":63.88},{"t":64.0},{"t":64.12},{"t":64.25},{"t":64.38},{"t":64.5},{"t":64.62},{"t":64.75},{"t":64.85},{"t":65.0},{"t":65.12},{"t":65.25},{"t":65.38},{"t":65.5},{"t":65.6},{"t":65.75},{"t":65.88},{"t":66.0},{"t":66.12},{"t":66.25},{"t":66.38},{"t":66.5},{"t":66.62},{"t":66.75},{"t":66.88},{"t":67.0},{"t":67.12},{"t":67.25},{"t":67.35},{"t":67.5},{"t":67.62},{"t":67.75},{"t":67.88},{"t":68.0},{"t":68.12},{"t":68.25},{"t":68.38},{"t":68.5},{"t":68.62},{"t":68.75},{"t":68.88},{"t":69.0},{"t":69.12},{"t":69.25},{"t":69.38},{"t":69.5},{"t":69.62},{"t":69.75},{"t":69.88},{"t":70.0},{"t":70.12},{"t":70.25},{"t":70.38}
]
},
"layer": [
{"data": {"name": "pat"},
 "mark": {"type": "line", "color": "#808080", "strokeWidth": 2.6},
 "encoding": {
  "x": {"field": "t", "type": "quantitative",
   "scale": {"domain": [7.96, 71.35], "nice": false, "zero": false},
   "axis": {"values": [10,20,30,40,50,60,70], "labelExpr": "datum.value % 20 == 0 ? datum.label : ''",
    "tickSize": 6, "tickWidth": 2, "tickColor": "black", "domainColor": "black", "domainWidth": 2,
    "labelFont": "Liberation Sans", "labelFontSize": 32, "labelColor": "black", "labelPadding": 13, "labelFlush": false, "labelOverlap": false,
    "title": "2θ , Degrees", "titleFont": "Liberation Sans", "titleFontSize": 32, "titleFontWeight": "normal", "titleColor": "black", "titlePadding": 23, "grid": false}},
  "y": {"field": "d", "type": "quantitative",
   "scale": {"domain": [17, 100], "nice": false, "zero": false},
   "axis": {"values": [25,50,75,100], "labelExpr": "datum.value % 50 == 0 ? datum.label : ''",
    "tickSize": 10, "tickWidth": 2, "tickColor": "black", "domainColor": "black", "domainWidth": 2,
    "labelFont": "Liberation Sans", "labelFontSize": 32, "labelColor": "black", "labelPadding": 8, "labelFlush": false, "labelOverlap": false,
    "title": null, "grid": false}}
 }},
{"data": {"name": "refl"},
 "mark": {"type": "rule", "color": "#008000", "strokeWidth": 1.4},
 "encoding": {"x": {"field": "t", "type": "quantitative"}, "y": {"datum": 18.0}, "y2": {"datum": 19.85}}},
{"data": {"name": "obs2"},
 "mark": {"type": "point", "shape": "circle", "filled": false, "color": "#ff0000", "size": 28, "strokeWidth": 1.2, "opacity": 1},
 "encoding": {"x": {"field": "t", "type": "quantitative"}, "y": {"field": "o", "type": "quantitative"}}},
{"data": {"name": "pat"},
 "mark": {"type": "point", "shape": "circle", "filled": false, "color": "#ff0000", "size": 28, "strokeWidth": 1.2, "opacity": 1},
 "encoding": {"x": {"field": "t", "type": "quantitative"}, "y": {"field": "o", "type": "quantitative"}}},
{"data": {"name": "pat"},
 "mark": {"type": "line", "color": "black", "strokeWidth": 2.6},
 "encoding": {"x": {"field": "t", "type": "quantitative"}, "y": {"field": "c", "type": "quantitative"}}},
{"data": {"values": [{}]}, "mark": {"type": "rule", "color": "black", "strokeWidth": 2}, "encoding": {"y": {"datum": 100}}},
{"data": {"values": [{}]}, "mark": {"type": "text", "text": "K", "font": "Liberation Sans", "fontSize": 60, "color": "#008000", "align": "left", "baseline": "alphabetic"}, "encoding": {"x": {"datum": 52.28}, "y": {"datum": 88.81}}},
{"data": {"values": [{}]}, "mark": {"type": "text", "text": "2", "font": "Liberation Sans", "fontSize": 34, "color": "#008000", "align": "left", "baseline": "alphabetic"}, "encoding": {"x": {"datum": 55.43}, "y": {"datum": 87.06}}},
{"data": {"values": [{}]}, "mark": {"type": "text", "text": "W", "font": "Liberation Sans", "fontSize": 60, "color": "#008000", "align": "left", "baseline": "alphabetic"}, "encoding": {"x": {"datum": 56.86}, "y": {"datum": 88.81}}},
{"data": {"values": [{}]}, "mark": {"type": "text", "text": "7", "font": "Liberation Sans", "fontSize": 32, "color": "#008000", "align": "left", "baseline": "alphabetic"}, "encoding": {"x": {"datum": 60.99}, "y": {"datum": 87.06}}},
{"data": {"values": [{}]}, "mark": {"type": "text", "text": "O", "font": "Liberation Sans", "fontSize": 60, "color": "#008000", "align": "left", "baseline": "alphabetic"}, "encoding": {"x": {"datum": 62.62}, "y": {"datum": 88.81}}},
{"data": {"values": [{}]}, "mark": {"type": "text", "text": "22", "font": "Liberation Sans", "fontSize": 34, "color": "#008000", "align": "left", "baseline": "alphabetic"}, "encoding": {"x": {"datum": 66.05}, "y": {"datum": 87.06}}},
{"data": {"values": [{}]}, "mark": {"type": "text", "text": "R", "font": "Liberation Sans", "fontSize": 32, "color": "black", "align": "left", "baseline": "alphabetic"}, "encoding": {"x": {"datum": 54.37}, "y": {"datum": 79.7}}},
{"data": {"values": [{}]}, "mark": {"type": "text", "text": "wp", "font": "Liberation Sans", "fontSize": 19, "color": "black", "align": "left", "baseline": "alphabetic"}, "encoding": {"x": {"datum": 56.44}, "y": {"datum": 77.9}}},
{"data": {"values": [{}]}, "mark": {"type": "text", "text": "= 4.48 %", "font": "Liberation Sans", "fontSize": 32, "color": "black", "align": "right", "baseline": "alphabetic"}, "encoding": {"x": {"datum": 69.0}, "y": {"datum": 79.7}}},
{"data": {"values": [{}]}, "mark": {"type": "text", "text": "χ", "font": "Liberation Sans", "fontSize": 26, "color": "black", "align": "left", "baseline": "alphabetic"}, "encoding": {"x": {"datum": 62.9}, "y": {"datum": 71.69}}},
{"data": {"values": [{}]}, "mark": {"type": "text", "text": "2", "font": "Liberation Sans", "fontSize": 12, "color": "black", "align": "left", "baseline": "alphabetic"}, "encoding": {"x": {"datum": 64.16}, "y": {"datum": 73.76}}},
{"data": {"values": [{}]}, "mark": {"type": "text", "text": "= 1.4", "font": "Liberation Sans", "fontSize": 22, "color": "black", "align": "right", "baseline": "alphabetic"}, "encoding": {"x": {"datum": 69.0}, "y": {"datum": 71.69}}},
{"data": {"values": [{}]}, "mark": {"type": "text", "text": "Intensity", "font": "Liberation Sans", "fontSize": 46, "color": "black", "align": "left", "baseline": "alphabetic", "angle": 270}, "encoding": {"x": {"datum": 0.24}, "y": {"datum": 33.56}}},
{"data": {"values": [{}]}, "mark": {"type": "text", "text": "1/2", "font": "Liberation Sans", "fontSize": 24, "color": "black", "align": "left", "baseline": "alphabetic", "angle": 270}, "encoding": {"x": {"datum": -1.72}, "y": {"datum": 57.46}}},
{"data": {"values": [{}]}, "mark": {"type": "text", "text": ", Counts", "font": "Liberation Sans", "fontSize": 46, "color": "black", "align": "left", "baseline": "alphabetic", "angle": 270}, "encoding": {"x": {"datum": 0.24}, "y": {"datum": 62.02}}},
{"data": {"values": [{}]}, "mark": {"type": "text", "text": "1/2", "font": "Liberation Sans", "fontSize": 24, "color": "black", "align": "left", "baseline": "alphabetic", "angle": 270}, "encoding": {"x": {"datum": -1.72}, "y": {"datum": 85.91}}}
]
}
